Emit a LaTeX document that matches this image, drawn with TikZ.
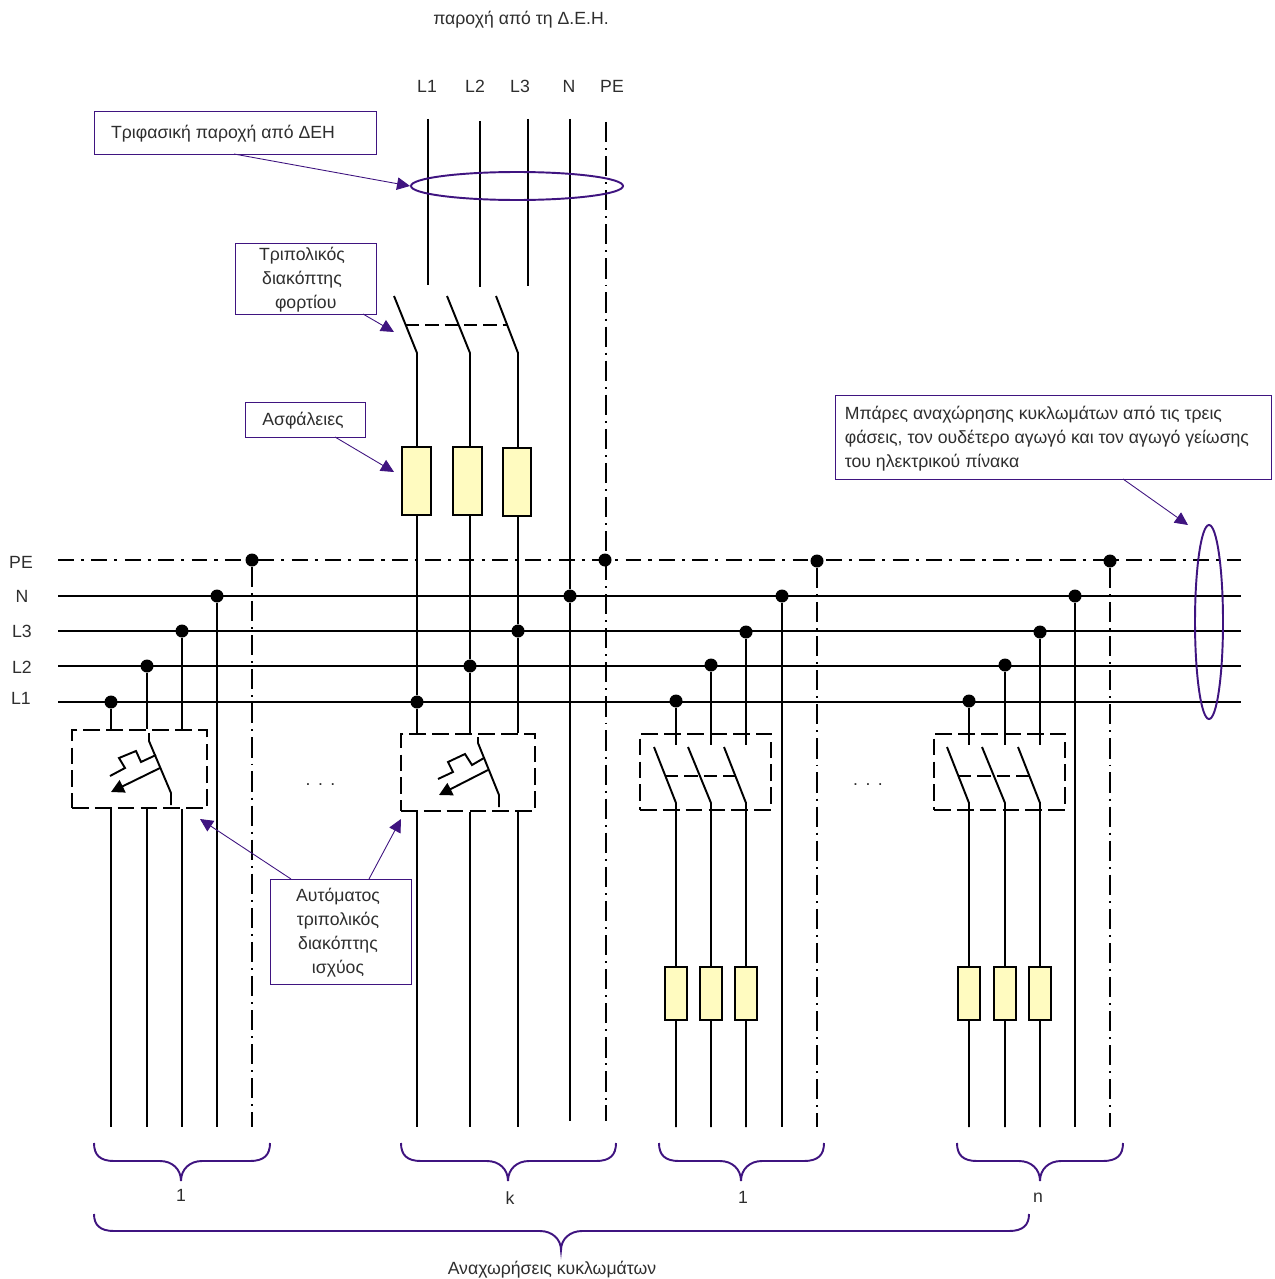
\documentclass[tikz,border=0pt]{standalone}
\usepackage{fontspec}
\setmainfont{Liberation Sans}
\usepackage{xcolor}
\usepackage{tikz}
\usetikzlibrary{shapes,arrows,arrows.meta,positioning,calc}
\definecolor{notepurple}{HTML}{3F1480}
\definecolor{fuseyellow}{HTML}{FFFBC0}
\tikzset{
    wire/.style={line width=1.1pt,black},
    earth/.style={line width=1.1pt,black,dash pattern=on 11.5pt off 3.4pt on 1.1pt off 3.4pt},
    earthbar/.style={line width=1pt,black,dash pattern=on 9pt off 4pt on 1.8pt off 4.2pt},
    linkage/.style={line width=1.1pt,black,dash pattern=on 7.5pt off 3.5pt},
    breakerbox/.style={draw,line width=1.1pt,dash pattern=on 9.5pt off 3.5pt,inner sep=0pt},
    dot/.style={circle,fill=black,minimum size=2.6mm,inner sep=0pt},
    bigfuse/.style={draw,line width=1.1pt,fill=fuseyellow,minimum height=13.6mm,inner sep=0pt},
    smallfuse/.style={draw,line width=1.1pt,fill=fuseyellow,minimum width=4.4mm,minimum height=10.6mm,inner sep=0pt},
    note/.style={draw=notepurple,line width=0.5pt,align=center,inner sep=0pt},
    callout/.style={draw=notepurple,line width=0.5pt,-{Triangle[length=2.6mm,width=2.5mm]}},
    ring/.style={ellipse,draw=notepurple,line width=1.1pt,inner sep=0pt},
    curly/.style={draw=notepurple,line width=1.1pt},
    txt/.style={font=\fontsize{10.05}{13.6}\selectfont,inner sep=0pt,text=black!82}
}
\begin{document}
\begin{tikzpicture}[x=0.2mm,y=-0.2mm]
            \useasboundingbox (0,0) rectangle (1274,1279);
            \fill[white] (0,0) rectangle (1274,1279);

            % bus bars
            \coordinate (busPEl) at (58,560);
            \coordinate (busPEr) at (1241,560);
            \coordinate (busNl) at (58,596);
            \coordinate (busNr) at (1241,596);
            \coordinate (busLthreel) at (58,631);
            \coordinate (busLthreer) at (1241,631);
            \coordinate (busLtwol) at (58,666);
            \coordinate (busLtwor) at (1241,666);
            \coordinate (busLonel) at (58,702);
            \coordinate (busLoner) at (1241,702);
            \coordinate (rowEnd) at (0,1127);
            \coordinate (rowMain) at (0,1121);

            \draw[earthbar] (busPEl)--(busPEr);
            \draw[wire] (busNl)--(busNr);
            \draw[wire] (busLthreel)--(busLthreer);
            \draw[wire] (busLtwol)--(busLtwor);
            \draw[wire] (busLonel)--(busLoner);

            % junctions on the bars
            \node[dot] (peA) at (252,560) {};
            \node[dot] (nA) at (217,596) {};
            \node[dot] (lthreeA) at (182,631) {};
            \node[dot] (ltwoA) at (147,666) {};
            \node[dot] (loneA) at (111,702) {};
            \node[dot] (peB) at (605,560) {};
            \node[dot] (nB) at (570,596) {};
            \node[dot] (lthreeB) at (518,631) {};
            \node[dot] (ltwoB) at (470,666) {};
            \node[dot] (loneB) at (417,702) {};
            \node[dot] (peC) at (817,561) {};
            \node[dot] (nC) at (782,596) {};
            \node[dot] (lthreeC) at (746,632) {};
            \node[dot] (ltwoC) at (711,665) {};
            \node[dot] (loneC) at (676,701) {};
            \node[dot] (peD) at (1110,561) {};
            \node[dot] (nD) at (1075,596) {};
            \node[dot] (lthreeD) at (1040,632) {};
            \node[dot] (ltwoD) at (1005,665) {};
            \node[dot] (loneD) at (969,701) {};

            % breaker boxes
            \node[breakerbox,minimum width=27mm,minimum height=15.6mm] (boxA) at (139.5,769) {};
            \node[breakerbox,minimum width=26.8mm,minimum height=15.4mm] (boxB) at (468,772.5) {};
            \node[breakerbox,minimum width=26.2mm,minimum height=15.2mm] (boxC) at (705.5,772) {};
            \node[breakerbox,minimum width=26.2mm,minimum height=15.2mm] (boxD) at (999.5,772) {};

            % circuit 1
            \draw[wire] (loneA)--(loneA |- boxA.north);
            \draw[wire] (ltwoA)--(ltwoA |- boxA.north);
            \draw[wire] (lthreeA)--(lthreeA |- boxA.north);
            \draw[wire] (loneA |- boxA.south)--(loneA |- rowEnd);
            \draw[wire] (ltwoA |- boxA.south)--(ltwoA |- rowEnd);
            \draw[wire] (lthreeA |- boxA.south)--(lthreeA |- rowEnd);
            \draw[wire] (nA)--(nA |- rowEnd);
            \draw[earth] (peA)--(peA |- rowEnd);
            \draw[wire] (149,733)--(149,741)--(171,793)--(171,805);
            \draw[wire] (110,776)--(125,768)--(119,758)--(136,751)--(141,762)--(156,755);
            \draw[wire,-{Triangle[length=2.6mm,width=2.7mm]}] (160,768)--(111,792);

            % circuit k
            \draw[wire] (loneB)--(loneB |- boxB.north);
            \draw[wire] (ltwoB)--(ltwoB |- boxB.north);
            \draw[wire] (lthreeB)--(lthreeB |- boxB.north);
            \draw[wire] (loneB |- boxB.south)--(loneB |- rowEnd);
            \draw[wire] (ltwoB |- boxB.south)--(ltwoB |- rowEnd);
            \draw[wire] (lthreeB |- boxB.south)--(lthreeB |- rowEnd);
            \draw[wire] (478,737)--(478,743)--(499,795)--(499,807);
            \draw[wire] (438,779)--(453,772)--(448,762)--(465,754)--(472,765)--(484,758);
            \draw[wire,-{Triangle[length=2.6mm,width=2.7mm]}] (488,770)--(439,795);

            % circuit 1 after the main switch
            \draw[wire] (loneC)--(loneC |- 0,745);
            \draw[wire] (ltwoC)--(ltwoC |- 0,745);
            \draw[wire] (lthreeC)--(lthreeC |- 0,745);
            \draw[wire] (654,747)--(676,803)--(loneC |- rowEnd);
            \draw[wire] (688,747)--(711,803)--(ltwoC |- rowEnd);
            \draw[wire] (724,747)--(746,803)--(lthreeC |- rowEnd);
            \draw[linkage] (665,776)--(736,776);
            \draw[wire] (nC)--(nC |- rowEnd);
            \draw[earth] (peC)--(peC |- rowEnd);

            % circuit n
            \draw[wire] (loneD)--(loneD |- 0,745);
            \draw[wire] (ltwoD)--(ltwoD |- 0,745);
            \draw[wire] (lthreeD)--(lthreeD |- 0,745);
            \draw[wire] (947,747)--(969,803)--(loneD |- rowEnd);
            \draw[wire] (982,747)--(1005,803)--(ltwoD |- rowEnd);
            \draw[wire] (1018,747)--(1040,803)--(lthreeD |- rowEnd);
            \draw[linkage] (958,776)--(1029,776);
            \draw[wire] (nD)--(nD |- rowEnd);
            \draw[earth] (peD)--(peD |- rowEnd);

            % incoming supply
            \coordinate (inLone) at (428,119);
            \coordinate (inLtwo) at (480,121);
            \coordinate (inLthree) at (528,119);
            \coordinate (inN) at (570,119);
            \coordinate (inPE) at (606,122);
            \draw[wire] (inLone)--(428,285);
            \draw[wire] (inLtwo)--(480,287);
            \draw[wire] (inLthree)--(528,286);
            \draw[wire] (inN)--(nB);
            \draw[wire] (nB)--(nB |- rowMain);
            \draw[earth] (inPE)--(inPE |- peB);
            \draw[earth] (inPE |- peB)--(inPE |- rowMain);

            % load switch
            \draw[wire] (394,296)--(417,353)--(loneB);
            \draw[wire] (447,296)--(470,353)--(ltwoB);
            \draw[wire] (496,296)--(518,353)--(lthreeB);
            \draw[linkage] (406,325)--(507,325);

            % fuses
            \node[bigfuse,minimum width=5.8mm] (fuseLone) at (416.5,481) {};
            \node[bigfuse,minimum width=5.8mm] (fuseLtwo) at (467.5,481) {};
            \node[bigfuse,minimum width=5.6mm] (fuseLthree) at (517,482) {};
            \node[smallfuse] (fuseCa) at (676,993.5) {};
            \node[smallfuse] (fuseCb) at (711,993.5) {};
            \node[smallfuse] (fuseCc) at (746,993.5) {};
            \node[smallfuse] (fuseDa) at (969,993.5) {};
            \node[smallfuse] (fuseDb) at (1005,993.5) {};
            \node[smallfuse] (fuseDc) at (1040,993.5) {};

            % notes
            \node[ring,minimum width=42.4mm,minimum height=5.6mm] (ringSupply) at (517,186) {};
            \node[ring,minimum width=5.6mm,minimum height=38.8mm] (ringBars) at (1209,622) {};
            \node[note,minimum width=56.4mm,minimum height=8.6mm] (noteSupply) at (235,132.5) {};
            \node[note,minimum width=28.2mm,minimum height=14.2mm] (noteSwitch) at (305.5,278.5) {};
            \node[note,minimum width=24mm,minimum height=7mm] (noteFuses) at (305,419.5) {};
            \node[note,minimum width=87.2mm,minimum height=16.8mm] (noteBars) at (1053,437) {};
            \node[note,minimum width=28.2mm,minimum height=21mm] (noteBreaker) at (340.5,931.5) {};
            \node[txt] (textSupply) at (223,134) {Τριφασική παροχή από ΔΕΗ};
            \node[txt,align=center] (textSwitch) at (302,279.5) {Τριπολικός\\διακόπτης\\\hspace*{1.5mm}φορτίου};
            \node[txt] (textFuses) at (303,421) {Ασφάλειες};
            \node[txt,align=left,anchor=west] (textBars) at (844.5,439) {Μπάρες αναχώρησης κυκλωμάτων από τις τρεις\\φάσεις, τον ουδέτερο αγωγό και τον αγωγό γείωσης\\του ηλεκτρικού πίνακα};
            \node[txt,align=center] (textBreaker) at (338,932.5) {Αυτόματος\\τριπολικός\\διακόπτης\\ισχύος};

            \coordinate (fromSupply) at (234,154);
            \coordinate (fromSwitch) at (363,314);
            \coordinate (toSwitch) at (394,332);
            \coordinate (fromFuses) at (335,437);
            \coordinate (toFuses) at (394,472);
            \coordinate (fromBars) at (1123,479);
            \coordinate (toBars) at (1188,525);
            \coordinate (fromBreakerA) at (291,879);
            \coordinate (toBreakerA) at (200,819);
            \coordinate (fromBreakerB) at (369,879);
            \coordinate (toBreakerB) at (401,819);
            \draw[callout] (fromSupply)--(ringSupply.west);
            \draw[callout] (fromSwitch)--(toSwitch);
            \draw[callout] (fromFuses)--(toFuses);
            \draw[callout] (fromBars)--(toBars);
            \draw[callout] (fromBreakerA)--(toBreakerA);
            \draw[callout] (fromBreakerB)--(toBreakerB);

            % braces
            \draw[curly] (94,1143) .. controls (94,1155) and (100,1161) .. (114,1161) -- (160,1161) .. controls (172,1161) and (181,1169) .. (181,1181) .. controls (181,1169) and (190,1161) .. (202,1161) -- (250,1161) .. controls (264,1161) and (270,1155) .. (270,1143);
            \draw[curly] (401,1143) .. controls (401,1155) and (407,1161) .. (421,1161) -- (487,1161) .. controls (499,1161) and (508,1169) .. (508,1181) .. controls (508,1169) and (517,1161) .. (529,1161) -- (596,1161) .. controls (610,1161) and (616,1155) .. (616,1143);
            \draw[curly] (659,1143) .. controls (659,1155) and (665,1161) .. (679,1161) -- (720,1161) .. controls (732,1161) and (741,1169) .. (741,1181) .. controls (741,1169) and (750,1161) .. (762,1161) -- (804,1161) .. controls (818,1161) and (824,1155) .. (824,1143);
            \draw[curly] (957,1143) .. controls (957,1155) and (963,1161) .. (977,1161) -- (1019,1161) .. controls (1031,1161) and (1040,1169) .. (1040,1181) .. controls (1040,1169) and (1049,1161) .. (1061,1161) -- (1103,1161) .. controls (1117,1161) and (1123,1155) .. (1123,1143);
            \draw[curly] (94,1214) .. controls (94,1225) and (100,1231) .. (114,1231) -- (540,1231) .. controls (552,1231) and (561,1239) .. (561,1250) .. controls (561,1239) and (570,1231) .. (582,1231) -- (1009,1231) .. controls (1023,1231) and (1029,1225) .. (1029,1214);

            % labels
            \node[txt] (titleTop) at (521,20) {παροχή από τη Δ.Ε.Η.};
            \node[txt] (topLone) at (427,86) {L1};
            \node[txt] (topLtwo) at (475,86) {L2};
            \node[txt] (topLthree) at (520,86) {L3};
            \node[txt] (topN) at (569,86) {N};
            \node[txt] (topPE) at (612,86) {PE};
            \node[txt] (sidePE) at (21,562) {PE};
            \node[txt] (sideN) at (22,596) {N};
            \node[txt] (sideLthree) at (22,631) {L3};
            \node[txt] (sideLtwo) at (22,667) {L2};
            \node[txt] (sideLone) at (21,698) {L1};
            \node[txt] (moreA) at (320.5,785) {.\kern1.5mm.\kern1.5mm.};
            \node[txt] (moreB) at (868,785) {.\kern1.5mm.\kern1.5mm.};
            \node[txt] (groupA) at (181,1195) {1};
            \node[txt] (groupB) at (510,1198) {k};
            \node[txt] (groupC) at (743,1197) {1};
            \node[txt] (groupD) at (1038,1198) {n};
            \node[txt] (groupAll) at (552,1270) {Αναχωρήσεις κυκλωμάτων};
        \end{tikzpicture}
\end{document}
